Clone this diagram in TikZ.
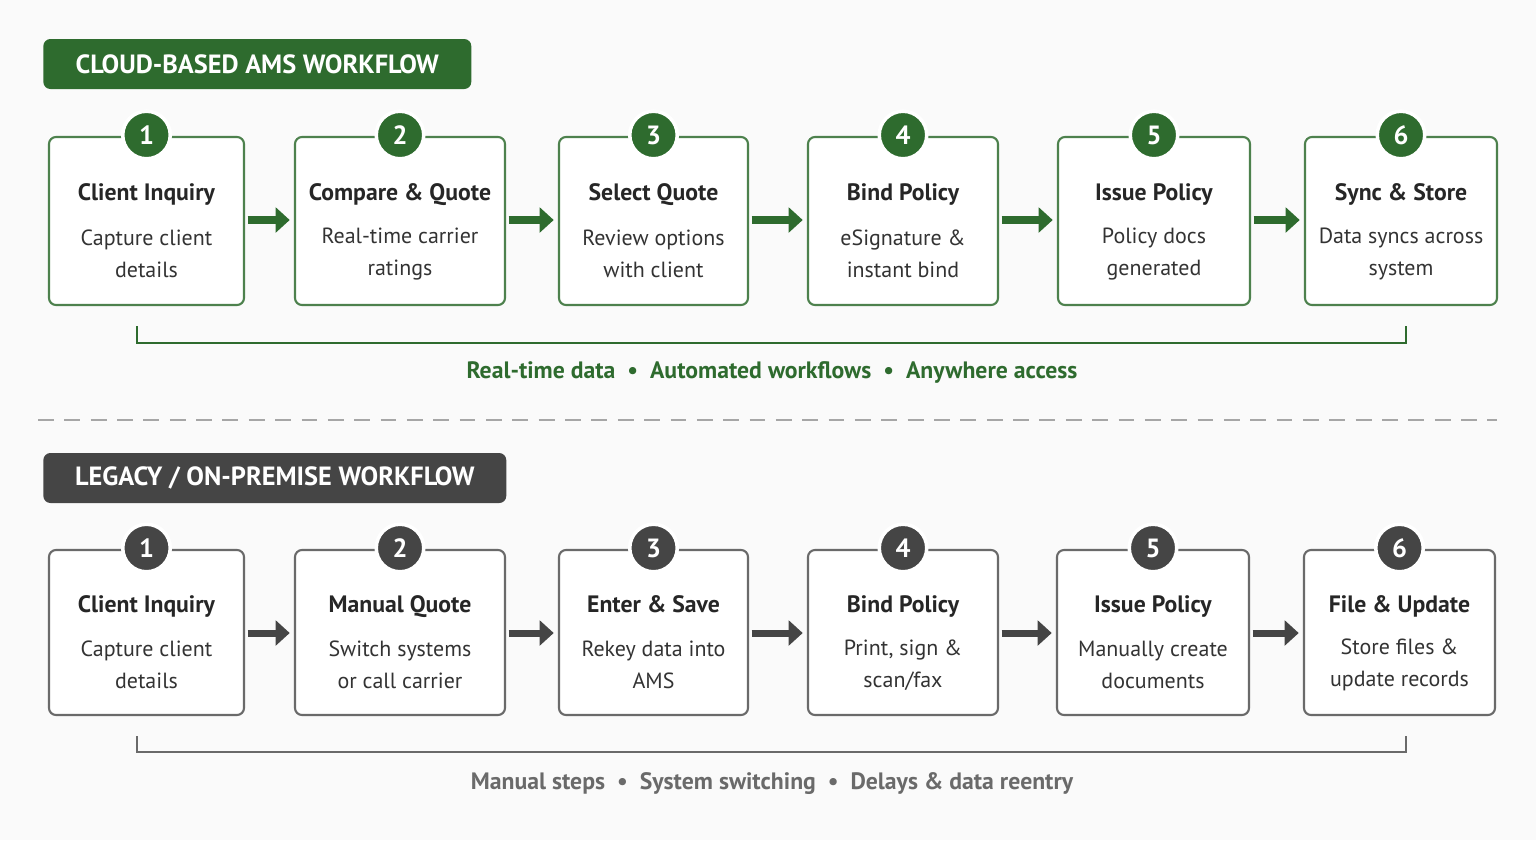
\documentclass[tikz,border=0pt]{standalone}
\usepackage{fontspec}
\setmainfont{PT Sans}
\usetikzlibrary{positioning,arrows.meta}
\definecolor{cloudgreen}{HTML}{2E6B2E}
\definecolor{legacygray}{HTML}{454545}
\definecolor{boxgray}{HTML}{6A6A6A}
\tikzset{
	banner/.style={fill=#1, rounded corners=4pt, text=white, font=\bfseries\fontsize{15}{15}\selectfont, anchor=west, minimum height=1cm, inner xsep=0.5cm},
	step/.style={draw=#1, line width=1.2pt, rounded corners=4pt, fill=white},
	badge/.style={circle, fill=#1, draw=white, line width=2pt, minimum size=0.95cm, text=white, font=\bfseries\fontsize{15}{15}\selectfont},
	ttl/.style={font=\bfseries\fontsize{13.5}{13.5}\selectfont, text=black!85, text height=10pt, text depth=3pt},
	sub/.style={font=\fontsize{12.5}{18}\selectfont, text=black!80, align=center},
	flow/.style={-{Triangle[length=8pt,width=14pt]}, line width=4pt, draw=#1},
	note/.style={font=\bfseries\fontsize{13.5}{13.5}\selectfont, text=#1},
}
\begin{document}
\begin{tikzpicture}[x=0.02cm,y=-0.02cm]
	\useasboundingbox (0,0) rectangle (1536,840);
	\fill[black!2] (0,0) rectangle (1536,840);
	% cloud workflow
	\node[banner=cloudgreen, minimum width=8.56cm] (cloudhead) at (43,64) {CLOUD-BASED AMS WORKFLOW};
	\foreach \i/\xa/\xb/\ttxt/\suba/\subb in {1/49/244/Client Inquiry/Capture client/details,
		2/295/505/Compare \& Quote/Real-time carrier/ratings,
		3/559/748/Select Quote/Review options/with client,
		4/808/998/Bind Policy/eSignature \&/instant bind,
		5/1058/1250/Issue Policy/Policy docs/generated,
		6/1305/1497/Sync \& Store/Data syncs across/system}{
		\draw[step=cloudgreen!85] (\xa,137) rectangle (\xb,305);
		\coordinate (cl\i) at (\xa,220);
		\coordinate (cr\i) at (\xb,220);
		\node[badge=cloudgreen] (cb\i) at ({(\xa+\xb)/2},135) {\i};
		\node[ttl] (ct\i) at ({(\xa+\xb)/2},194) {\ttxt};
		\node[sub] (cs\i) at ({(\xa+\xb)/2},254) {\suba\\\subb};
	}
	\foreach \i [evaluate=\i as \j using int(\i+1)] in {1,...,5}{
		\draw[flow=cloudgreen] ([xshift=2pt]cr\i) -- ([xshift=-3pt]cl\j);
	}
	\coordinate (cbl) at (137,326);
	\coordinate (cbr) at (1406,326);
	\draw[cloudgreen, line width=1.5pt] (cbl) -- ++(0,17) -| (cbr);
	\node[note=cloudgreen] (cnote) at (772,372) {Real-time data \ \textbullet\ \ Automated workflows \ \textbullet\ \ Anywhere access};
	% separator
	\coordinate (sepl) at (38,420);
	\coordinate (sepr) at (1497,420);
	\draw[black!35, line width=1.2pt, dash pattern=on 9pt off 6pt] (sepl) -- (sepr);
	% legacy workflow
	\node[banner=legacygray, minimum width=9.26cm] (legacyhead) at (43,478) {LEGACY / ON-PREMISE WORKFLOW};
	\foreach \i/\xa/\xb/\ttxt/\suba/\subb in {1/49/244/Client Inquiry/Capture client/details,
		2/295/505/Manual Quote/Switch systems/or call carrier,
		3/559/748/Enter \& Save/Rekey data into/AMS,
		4/808/998/Bind Policy/{Print, sign \&}/scan\slash fax,
		5/1057/1249/Issue Policy/Manually create/documents,
		6/1304/1495/File \& Update/Store files \&/update records}{
		\draw[step=boxgray] (\xa,550) rectangle (\xb,715);
		\coordinate (ll\i) at (\xa,633);
		\coordinate (lr\i) at (\xb,633);
		\node[badge=legacygray] (lb\i) at ({(\xa+\xb)/2},548) {\i};
		\node[ttl] (lt\i) at ({(\xa+\xb)/2},606) {\ttxt};
		\node[sub] (ls\i) at ({(\xa+\xb)/2},665) {\suba\\\subb};
	}
	\foreach \i [evaluate=\i as \j using int(\i+1)] in {1,...,5}{
		\draw[flow=legacygray] ([xshift=2pt]lr\i) -- ([xshift=-3pt]ll\j);
	}
	\coordinate (lbl) at (137,736);
	\coordinate (lbr) at (1406,736);
	\draw[boxgray, line width=1.5pt] (lbl) -- ++(0,16) -| (lbr);
	\node[note=boxgray] (lnote) at (772,784) {Manual steps \ \textbullet\ \ System switching \ \textbullet\ \ Delays \& data reentry};
\end{tikzpicture}
\end{document}
